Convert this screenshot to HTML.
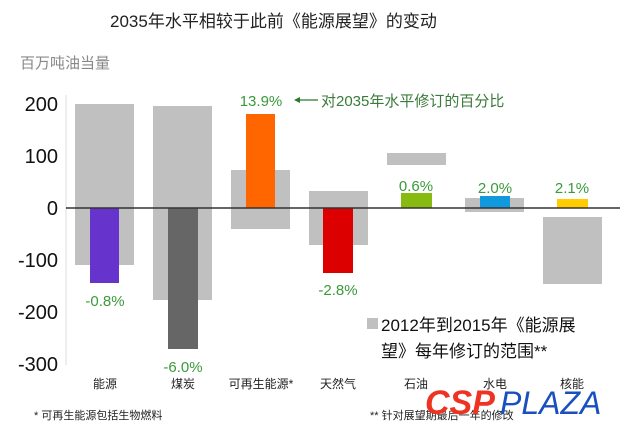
<!DOCTYPE html>
<html><head><meta charset="utf-8"><style>
body{margin:0;background:#fff;}
svg text{font-family:"Liberation Sans","Noto Sans CJK SC",sans-serif;}
</style></head><body>
<svg width="620" height="431" viewBox="0 0 620 431" xmlns="http://www.w3.org/2000/svg">
<rect width="620" height="431" fill="#fff"/>
<text x="110" y="27" font-size="17" fill="#222">2035年水平相较于此前《能源展望》的变动</text>
<text x="20" y="68" font-size="15" fill="#888">百万吨油当量</text>
<line x1="66" y1="95" x2="66" y2="365" stroke="#ddd" stroke-width="1"/>
<g font-size="20" fill="#111" text-anchor="end">
<text x="58" y="111">200</text><text x="58" y="163">100</text><text x="58" y="215">0</text>
<text x="58" y="267">-100</text><text x="58" y="319">-200</text><text x="58" y="371">-300</text>
</g>
<g fill="#c0c0c0">
<rect x="75" y="104" width="59" height="161"/>
<rect x="153" y="106" width="59" height="194"/>
<rect x="231" y="170" width="59" height="59"/>
<rect x="309" y="191" width="59" height="54"/>
<rect x="387" y="153" width="59" height="12"/>
<rect x="465" y="198" width="59" height="14"/>
<rect x="543" y="217" width="59" height="67"/>
</g>
<rect x="90" y="208" width="29" height="75" fill="#6633cc"/>
<rect x="168" y="208" width="30" height="141" fill="#666"/>
<rect x="246" y="114" width="29" height="94" fill="#ff6600"/>
<rect x="323" y="208" width="30" height="65" fill="#dd0000"/>
<rect x="401" y="193" width="31" height="15" fill="#88bb11"/>
<rect x="480" y="196" width="30" height="12" fill="#1199dd"/>
<rect x="557" y="199" width="31" height="9" fill="#ffcc00"/>
<line x1="66" y1="208" x2="620" y2="208" stroke="#333" stroke-width="1.5"/>
<g font-size="15" fill="#3a9a3a" text-anchor="middle">
<text x="105" y="306">-0.8%</text>
<text x="183" y="372">-6.0%</text>
<text x="261" y="106">13.9%</text>
<text x="338" y="295">-2.8%</text>
<text x="416" y="191">0.6%</text>
<text x="495" y="193">2.0%</text>
<text x="572" y="193">2.1%</text>
</g>
<line x1="296" y1="100" x2="318" y2="100" stroke="#2a7a2a" stroke-width="1.2"/>
<path d="M294 100 L300 97 L300 103 Z" fill="#2a7a2a"/>
<text x="321" y="106" font-size="15" fill="#3a7a3a">对2035年水平修订的百分比</text>
<rect x="367" y="318" width="11" height="11" fill="#c0c0c0"/>
<text x="381" y="331" font-size="17" fill="#111">2012年到2015年《能源展</text>
<text x="381" y="357" font-size="17" fill="#111">望》每年修订的范围**</text>
<g font-size="12" fill="#222" text-anchor="middle">
<text x="105" y="388">能源</text><text x="183" y="388">煤炭</text><text x="261" y="388">可再生能源*</text>
<text x="338" y="388">天然气</text><text x="416" y="388">石油</text><text x="495" y="388">水电</text><text x="572" y="388">核能</text>
</g>
<text x="34" y="419" font-size="11" fill="#222">* 可再生能源包括生物燃料</text>
<text x="370" y="419" font-size="11" fill="#222">** 针对展望期最后一年的修改</text>
<text x="425" y="414" font-size="34" font-weight="bold" font-style="italic" fill="#ee3322">CSP</text>
<text x="500" y="414" font-size="32" font-style="italic" fill="#1a4fbf">PLAZA</text>
</svg>
</body></html>
